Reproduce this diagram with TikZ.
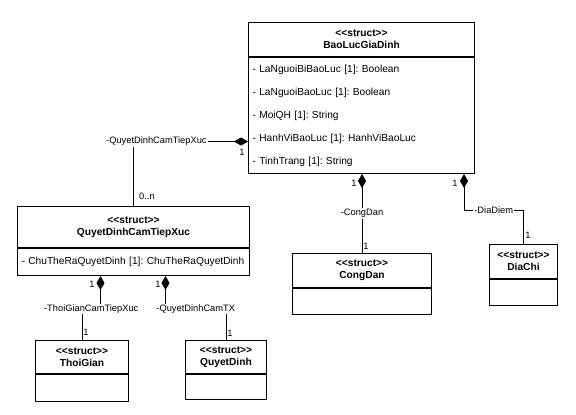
\documentclass[tikz,border=0pt]{standalone}
\usepackage{fontspec}
\setmainfont{Liberation Sans}
\usetikzlibrary{arrows.meta}

\newcommand{\stereo}{{<}{<}struct{>}{>}}

\begin{document}
\begin{tikzpicture}[
  x=1pt, y=-1pt,
  classhead/.style={draw, line width=1pt, fill=white, align=center, anchor=north west, inner sep=0pt, font=\bfseries\fontsize{10.2}{12}\selectfont},
  classbody/.style={draw, line width=1pt, fill=white, anchor=north west, inner xsep=4pt, inner ysep=0pt, align=left, font=\frenchspacing\fontsize{10.2}{23}\selectfont},
  conn/.style={draw, line width=0.8pt},
  comp/.style={conn, {Diamond[length=14pt,width=8pt]}-},
  lab/.style={fill=white, inner sep=1pt, font=\fontsize{9.3}{11}\selectfont},
  mult/.style={inner sep=0pt, font=\fontsize{9.3}{11}\selectfont}
]
\fill[white] (0,0) rectangle (576,415);
\useasboundingbox (0,0) rectangle (576,415);

% classes
\node[classhead, minimum width=226pt, minimum height=34pt] (baoluc) at (248,22) {\stereo\\BaoLucGiaDinh};
\node[classbody, text width=218pt, minimum height=116pt] (baoluc-attr) at (baoluc.south west)
  {- LaNguoiBiBaoLuc [1]: Boolean\\- LaNguoiBaoLuc [1]: Boolean\\- MoiQH [1]: String\\- HanhViBaoLuc [1]: HanhViBaoLuc\\- TinhTrang [1]: String};

\node[classhead, minimum width=232pt, minimum height=41pt] (qdctx) at (17,206) {\stereo\\QuyetDinhCamTiepXuc};
\node[classbody, text width=224pt, minimum height=27pt] (qdctx-attr) at (qdctx.south west)
  {- ChuTheRaQuyetDinh [1]: ChuTheRaQuyetDinh};

\node[classhead, minimum width=93pt, minimum height=33pt] (thoigian) at (35,340) {\stereo\\ThoiGian};
\node[classbody, minimum width=93pt, minimum height=27pt] (thoigian-attr) at (thoigian.south west) {};

\node[classhead, minimum width=81pt, minimum height=33pt] (quyetdinh) at (185,340) {\stereo\\QuyetDinh};
\node[classbody, minimum width=81pt, minimum height=25pt] (quyetdinh-attr) at (quyetdinh.south west) {};

\node[classhead, minimum width=139pt, minimum height=34pt] (congdan) at (292,253) {\stereo\\CongDan};
\node[classbody, minimum width=139pt, minimum height=26pt] (congdan-attr) at (congdan.south west) {};

\node[classhead, minimum width=68pt, minimum height=34pt] (diachi) at (489,244) {\stereo\\DiaChi};
\node[classbody, minimum width=68pt, minimum height=26pt] (diachi-attr) at (diachi.south west) {};

% compositions
\draw[comp] ([yshift=-26pt]baoluc-attr.west) -| node[lab, pos=0.4] {-QuyetDinhCamTiepXuc} (qdctx.north);
\draw[comp] (baoluc-attr.south -| congdan.north) -- node[lab, pos=0.5] {-CongDan} (congdan.north);
\draw[comp] ([xshift=-11pt]baoluc-attr.south east) -- ++(0,36) -| node[lab, pos=0.25] {-DiaDiem} (diachi.north);
\draw[comp] ([xshift=-33pt]qdctx-attr.south) -- ++(0,33) -| node[lab, pos=0.25] {-ThoiGianCamTiepXuc} (thoigian.north);
\draw[comp] ([xshift=32pt]qdctx-attr.south) -- ++(0,33) -| node[lab, pos=0.25] {-QuyetDinhCamTX} (quyetdinh.north);

% multiplicities
\node[mult] (m-qd-src) at (242,152) {1};
\node[mult] (m-qd-dst) at (147,196) {0..n};
\node[mult] (m-cd-src) at (354,183) {1};
\node[mult] (m-cd-dst) at (366,246) {1};
\node[mult] (m-dc-src) at (455,183) {1};
\node[mult] (m-dc-dst) at (528,235) {1};
\node[mult] (m-tg-src) at (92,284) {1};
\node[mult] (m-tg-dst) at (86,332) {1};
\node[mult] (m-qdt-src) at (158,284) {1};
\node[mult] (m-qdt-dst) at (230,333) {1};
\end{tikzpicture}
\end{document}
